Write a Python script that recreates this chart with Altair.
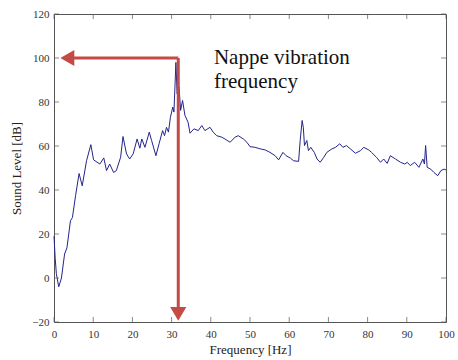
import altair as alt
import pandas as pd

# --- spectrum data ---
freq = [0.0, 0.3, 0.6, 1.2, 1.9, 2.7, 3.3, 4.2, 4.7, 5.5, 6.4, 7.2, 8.3, 9.4, 10.1,
        11.7, 12.7, 13.4, 14.2, 15.2, 15.9, 17.0, 17.6, 18.5, 19.3, 20.2, 21.2, 21.9,
        22.4, 23.2, 24.3, 24.9, 26.0, 26.8, 27.7, 28.2, 28.7, 29.2, 29.7, 30.3, 30.6,
        31.1, 31.4, 31.9, 32.3, 32.8, 33.4, 34.2, 34.7, 35.7, 36.8, 37.7, 38.5, 39.8,
        40.6, 41.5, 42.8, 43.6, 44.9, 46.2, 47.0, 48.3, 49.2, 50.0, 51.3, 52.6, 53.9,
        55.1, 56.4, 57.3, 58.4, 59.2, 60.3, 61.1, 62.4, 62.8, 63.3, 63.6, 63.9, 64.5,
        64.9, 65.5, 66.4, 67.1, 67.9, 68.8, 69.6, 70.9, 71.8, 72.9, 73.7, 74.6, 75.6,
        76.9, 78.2, 79.0, 80.3, 81.0, 82.3, 83.3, 84.1, 85.0, 85.8, 87.1, 88.4, 89.5,
        90.1, 90.9, 92.0, 93.1, 94.1, 94.5, 94.8, 95.2, 96.1, 96.9, 97.9, 98.7, 99.5,
        100.0]
level = [19, 9, 2, -4, 0, 10.9, 13.7, 26, 27.5, 37.4, 47.5, 41.9, 53.3, 60.6, 53.7,
         51.8, 54.6, 48.8, 51.8, 48, 48.8, 54.9, 64.3, 56.4, 54.1, 56.4, 63.2, 59,
         63.2, 59.4, 66.3, 62.5, 55.6, 61, 67, 64.7, 68.5, 66.3, 73.1, 77.7, 75.4,
         98, 83.8, 86.8, 76.2, 80.7, 73.9, 70.8, 65.8, 67.8, 67, 69.3, 67, 68.5,
         66.3, 64.7, 64, 63.2, 61.7, 64, 64.7, 63.2, 61.7, 59.7, 59.4, 58.7, 58.2,
         57.1, 55.6, 53.7, 57.1, 55.6, 54.5, 53.3, 53, 62.5, 71.6, 68.5, 60.2, 62.5,
         57.9, 59.4, 57.1, 54.1, 52.6, 54.8, 57.1, 58.7, 59.4, 61, 59.4, 60.2, 58.7,
         56.7, 57.9, 59.4, 58.2, 57.1, 54.8, 52.6, 54.1, 52.1, 55.6, 54.1, 52.6, 51.8,
         52.6, 51.1, 52.6, 50.3, 54.1, 51.8, 60.2, 50.3, 49.5, 48, 46.5, 48.8, 49.5,
         49.1]

x_ticks = [0, 10, 20, 30, 40, 50, 60, 70, 80, 90, 100]
y_ticks = [-20, 0, 20, 40, 60, 80, 100, 120]

# annotation arrow (in data units)
arrow_h_x = [3.0, 31.7]
arrow_h_y = [100, 100]
arrow_v_x = [31.7, 31.7]
arrow_v_y = [100, -15]
head_left = {"f": 3.4, "v": 100}
head_down = {"f": 31.7, "v": -16.3}
note_lines = ["Nappe vibration", "frequency"]
note_pos = {"f": 40.8, "v": 97.5}

W, H = 392, 308
SERIF = "Liberation Serif"

xs = alt.Scale(domain=[0, 100], nice=False, zero=False)
ys = alt.Scale(domain=[-20, 120], nice=False, zero=False)

AX = alt.Axis(
    title="Frequency [Hz]", values=x_ticks, grid=False, domain=False, ticks=False,
    labelOverlap=False, labelFlush=False,
    labelFont=SERIF, labelFontSize=11, labelColor="#333", labelPadding=6,
    titleFont=SERIF, titleFontSize=13, titleFontWeight="normal", titleColor="#222",
    titlePadding=4)
AY = alt.Axis(
    title="Sound Level [dB]", values=y_ticks, grid=False, domain=False, ticks=False,
    labelOverlap=False, labelFlush=False,
    labelFont=SERIF, labelFontSize=11, labelColor="#333", labelPadding=5,
    titleFont=SERIF, titleFontSize=13, titleFontWeight="normal", titleColor="#222",
    titlePadding=8)


def X(field="f:Q"):
    return alt.X(field, scale=xs, axis=AX)


def Y(field="v:Q"):
    return alt.Y(field, scale=ys, axis=AY)


df = pd.DataFrame({"f": freq, "v": level})

line = alt.Chart(df).mark_line(color="#24248c", strokeWidth=1).encode(x=X(), y=Y())

xt = pd.DataFrame({"f": x_ticks})
yt = pd.DataFrame({"v": y_ticks})
tick_style = dict(color="#555", thickness=1, size=5)
xtick_bot = alt.Chart(xt).mark_tick(orient="vertical", **tick_style).encode(
    x=X(), y=alt.value(H - 2.5))
xtick_top = alt.Chart(xt).mark_tick(orient="vertical", **tick_style).encode(
    x=X(), y=alt.value(2.5))
ytick_left = alt.Chart(yt).mark_tick(orient="horizontal", **tick_style).encode(
    y=Y(), x=alt.value(2.5))
ytick_right = alt.Chart(yt).mark_tick(orient="horizontal", **tick_style).encode(
    y=Y(), x=alt.value(W - 2.5))

red = "#c44a45"
hdf = pd.DataFrame({"f": [arrow_h_x[0]], "f2": [arrow_h_x[1]], "v": [arrow_h_y[0]]})
vdf = pd.DataFrame({"f": [arrow_v_x[0]], "v": [arrow_v_y[0]], "v2": [arrow_v_y[1]]})
arrow_h = alt.Chart(hdf).mark_rule(color=red, strokeWidth=3).encode(
    x=X(), x2="f2:Q", y=Y())
arrow_v = alt.Chart(vdf).mark_rule(color=red, strokeWidth=3).encode(
    x=X(), y=Y(), y2="v2:Q")
hl = alt.Chart(pd.DataFrame([head_left])).mark_point(
    shape="triangle-left", filled=True, color=red, size=260, opacity=1).encode(
    x=X(), y=Y())
hd = alt.Chart(pd.DataFrame([head_down])).mark_point(
    shape="triangle-down", filled=True, color=red, size=260, opacity=1).encode(
    x=X(), y=Y())

note = alt.Chart(pd.DataFrame([note_pos])).mark_text(
    text=note_lines, font=SERIF, fontSize=21, color="#111", align="left",
    baseline="alphabetic", lineHeight=24).encode(
    x=X(), y=Y())

chart = alt.layer(
    line, xtick_bot, xtick_top, ytick_left, ytick_right, arrow_h, arrow_v, hl, hd, note
).properties(
    width=W, height=H,
    padding={"left": 54, "top": 14, "right": 12, "bottom": 38},
    autosize=alt.AutoSizeParams(type="none"),
    background="white",
).configure_view(stroke="#555", strokeWidth=1)

chart.save("out.html", embed_options={"renderer": "svg", "actions": False})
